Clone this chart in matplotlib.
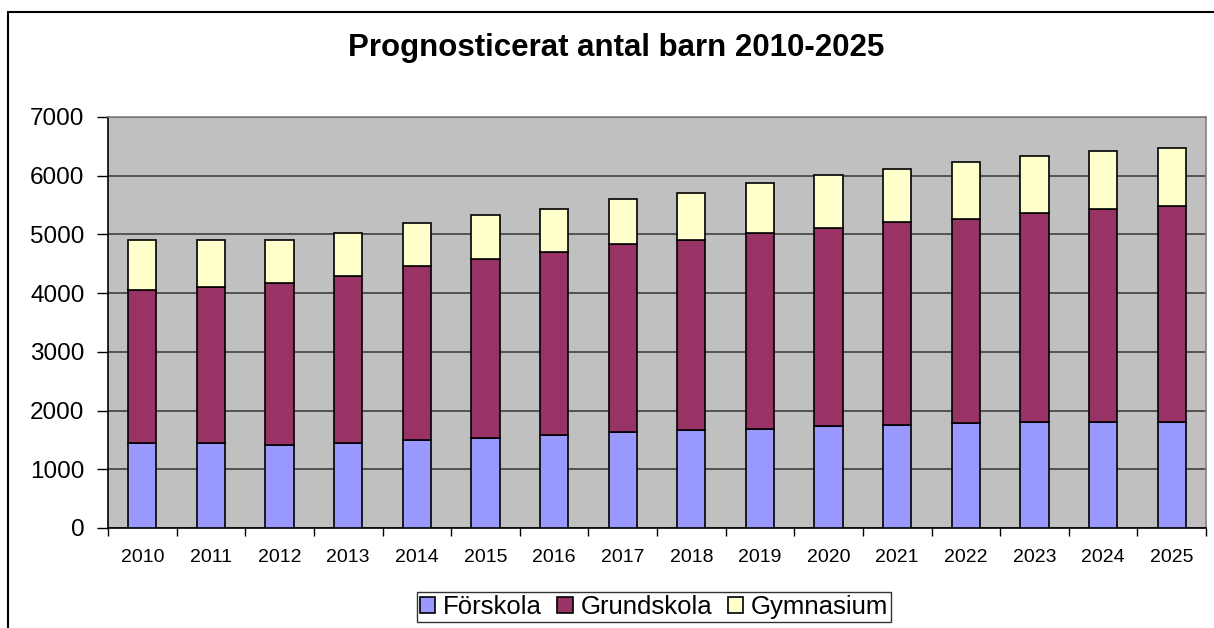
import matplotlib
matplotlib.use('Agg')
import matplotlib.pyplot as plt
from matplotlib.patches import Rectangle
import numpy as np

plt.rcParams['font.family'] = ['Liberation Sans', 'DejaVu Sans']

years = ['2010', '2011', '2012', '2013', '2014', '2015', '2016', '2017',
         '2018', '2019', '2020', '2021', '2022', '2023', '2024', '2025']
# values (cumulative tops)
forskola = [1450, 1450, 1420, 1450, 1500, 1530, 1590, 1640,
            1670, 1690, 1730, 1760, 1790, 1810, 1810, 1810]
forskola_grund_top = [4060, 4110, 4170, 4300, 4470, 4580, 4700, 4830,
                      4910, 5020, 5110, 5210, 5270, 5360, 5440, 5490]
total = [4910, 4910, 4910, 5020, 5190, 5330, 5440, 5600,
         5710, 5870, 6010, 6120, 6240, 6340, 6420, 6480]

grundskola = [g - f for g, f in zip(forskola_grund_top, forskola)]
gymnasium = [t - g for t, g in zip(total, forskola_grund_top)]

fig = plt.figure(figsize=(12.14, 6.28), dpi=100)
fig.patch.set_facecolor('white')

# outer chart border (only left and top edges visible in the picture)
fig.patches.append(Rectangle((8 / 1214, -0.1), 1.2, 1 - 12 / 628 + 0.1,
                             transform=fig.transFigure, fill=False,
                             edgecolor='black', linewidth=1.5))

ax = fig.add_axes([108 / 1214, 100 / 628, 1098 / 1214, 411 / 628])
ax.set_facecolor('#C0C0C0')

x = np.arange(len(years))
w = 0.41
ax.bar(x, forskola, w, color='#9999FF', edgecolor='black', linewidth=1.2,
       label='Förskola', zorder=3)
ax.bar(x, grundskola, w, bottom=forskola, color='#993366', edgecolor='black',
       linewidth=1.2, label='Grundskola', zorder=3)
ax.bar(x, gymnasium, w, bottom=forskola_grund_top, color='#FFFFCC',
       edgecolor='black', linewidth=1.2, label='Gymnasium', zorder=3)

ax.set_xlim(-0.5, len(years) - 0.5)
ax.set_ylim(0, 7000)
ax.set_yticks(range(0, 7001, 1000))
ax.yaxis.grid(True, color='#404040', linewidth=1.2, zorder=0)
ax.set_axisbelow(True)

ax.set_xticks(x)
ax.set_xticklabels(years, fontsize=14)
ax.set_xticks(np.arange(-0.5, len(years)), minor=True)
ax.tick_params(axis='x', which='major', length=0, pad=15)
ax.tick_params(axis='x', which='minor', length=6, width=1, color='black')
ax.tick_params(axis='y', labelsize=17.5, length=8, width=1, pad=9)

ax.spines['left'].set_color('black')
ax.spines['bottom'].set_color('black')
ax.spines['top'].set_color('#808080')
ax.spines['right'].set_color('#808080')
for s in ax.spines.values():
    s.set_linewidth(1.2)

fig.text(616 / 1214, 1 - 48 / 628, 'Prognosticerat antal barn 2010-2025',
         ha='center', va='center', fontsize=22.5, fontweight='bold')

leg = fig.legend(loc='center', bbox_to_anchor=(654 / 1214, 1 - 607 / 628),
                 ncol=3, fontsize=18.5, frameon=True, fancybox=False,
                 edgecolor='black', handlelength=0.6, handleheight=0.6,
                 handletextpad=0.3, columnspacing=0.6, borderpad=0.12)
leg.get_frame().set_linewidth(1)

fig.savefig('out.png', dpi=100)
